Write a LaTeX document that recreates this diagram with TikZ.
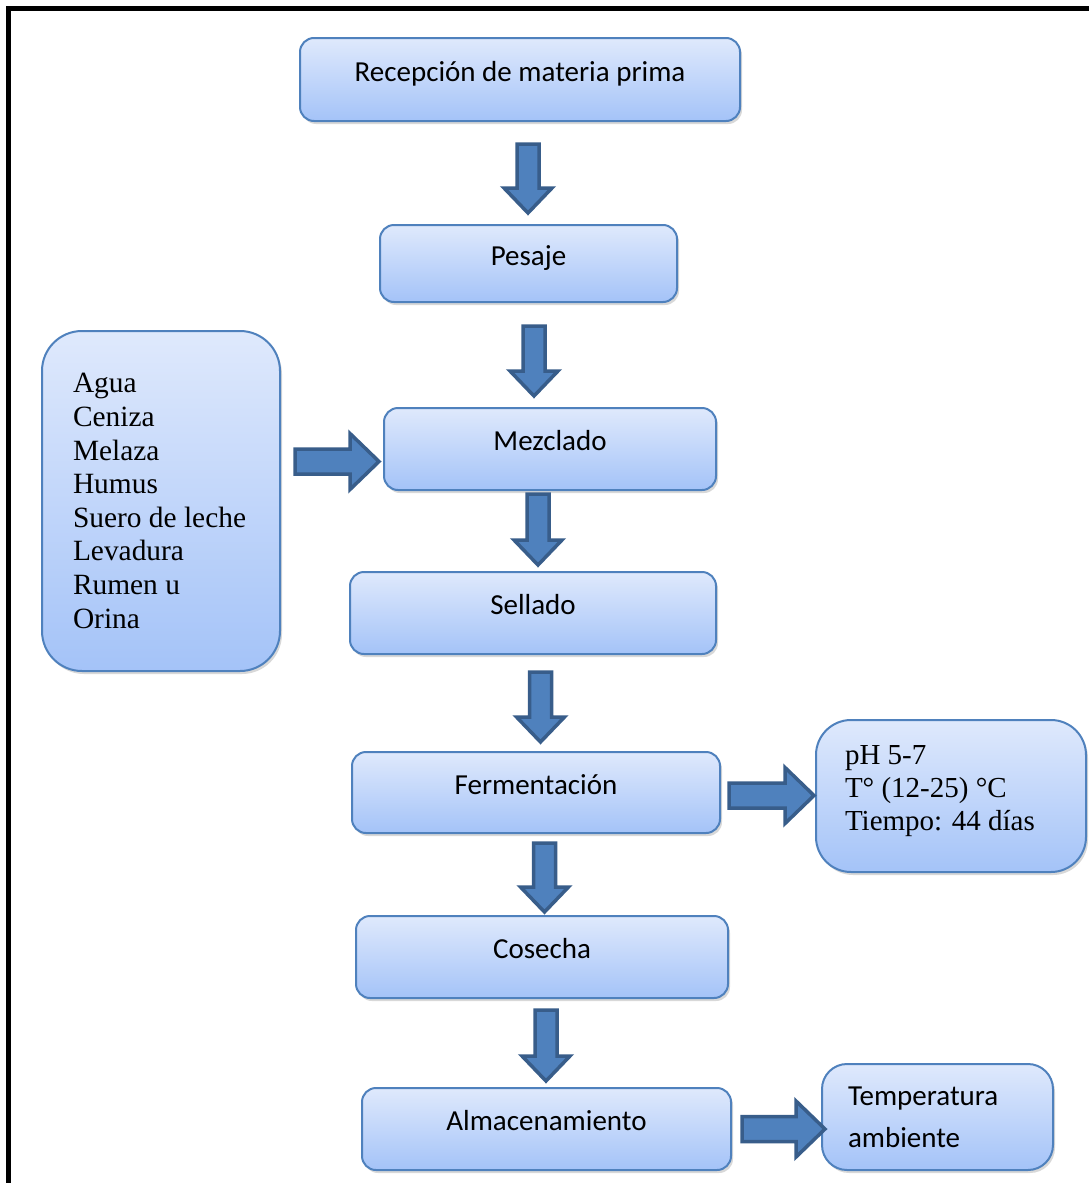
\documentclass[tikz,border=0pt]{standalone}
\usepackage{fontspec}
\setmainfont{Liberation Serif}
\newfontfamily\boxfont{Carlito}
\usetikzlibrary{shadows}
\definecolor{boxtop}{RGB}{223,233,252}
\definecolor{boxbot}{RGB}{164,195,248}
\definecolor{boxline}{RGB}{79,129,189}
\definecolor{arrfill}{RGB}{79,129,189}
\definecolor{arrline}{RGB}{56,93,138}
\tikzset{
  basebox/.style={draw=boxline, line width=2pt, top color=boxtop, bottom color=boxbot,
    drop shadow={shadow xshift=2pt, shadow yshift=-3pt, opacity=0.3}},
  procbox/.style={basebox, rounded corners=14pt, inner sep=0pt,
    font=\boxfont\fontsize{29}{35}\selectfont, text height=12pt, text depth=9pt},
  notebox/.style={basebox, inner sep=0pt, align=flush left},
  blockarrow/.style={fill=arrfill, draw=arrline, line width=3.5pt, line join=miter},
}
\newcommand\dnarrow[3]{%
  \draw[blockarrow] (#1-11,#2) -- (#1+11,#2) -- (#1+11,#3-25) -- (#1+24,#3-25)
    -- (#1,#3) -- (#1-24,#3-25) -- (#1-11,#3-25) -- cycle;}
\newcommand\rtarrow[3]{%
  \draw[blockarrow] (#2,#1-12.5) -- (#3-29,#1-12.5) -- (#3-29,#1-28) -- (#3,#1)
    -- (#3-29,#1+28) -- (#3-29,#1+12.5) -- (#2,#1+12.5) -- cycle;}
\begin{document}
\begin{tikzpicture}[x=1pt,y=-1pt]
\useasboundingbox (0,0) rectangle (1089,1183);
\fill[white] (0,0) rectangle (1089,1183);
\draw[line width=5pt] (8,8) rectangle (1110,1210);

% process boxes
\node[procbox, minimum width=440pt, minimum height=83pt] (recep) at (520,79.5) {Recepción de materia prima};
\node[procbox, minimum width=297pt, minimum height=77pt] (pesaje) at (528.5,263.5) {Pesaje};
\node[procbox, minimum width=332pt, minimum height=82pt] (mezcla) at (550,449) {Mezclado};
\node[procbox, minimum width=366pt, minimum height=82pt] (sellado) at (533,613) {Sellado};
\node[procbox, minimum width=368pt, minimum height=81pt] (ferm) at (536,792.5) {Fermentación};
\node[procbox, minimum width=372pt, minimum height=82pt] (cosecha) at (542,957) {Cosecha};
\node[procbox, minimum width=369pt, minimum height=82pt] (almac) at (546.5,1129) {Almacenamiento};

% side boxes
\node[notebox, rounded corners=40pt, minimum width=238pt, minimum height=340pt, text width=176pt,
  font=\fontsize{29.4}{33.6}\selectfont] (insumos) at (161,501)
  {Agua\\Ceniza\\Melaza\\Humus\\Suero de leche\\Levadura\\Rumen u\\Orina};
\node[notebox, rounded corners=35pt, minimum width=270pt, minimum height=152pt, text width=212pt,
  font=\fontsize{29}{33}\selectfont] (cond) at (951,796)
  {\raisebox{0pt}[19.5pt][0pt]{pH 5-7}\\T° (12-25) °C\\Tiempo: 44 días\rule[-16pt]{0pt}{16pt}};
\node[notebox, rounded corners=25pt, minimum width=231pt, minimum height=106pt, text width=179pt,
  font=\boxfont\fontsize{29}{42}\selectfont] (temp) at (937.5,1117)
  {Temperatura\\ambiente};

% block arrows
\dnarrow{528}{144}{213}
\dnarrow{534}{326}{396}
\dnarrow{538}{494}{565}
\dnarrow{540.5}{672}{742}
\dnarrow{544.5}{843}{912}
\dnarrow{546}{1010}{1081}
\rtarrow{461.5}{295}{379}
\rtarrow{795.5}{729}{814}
\rtarrow{1129}{742}{825}
\end{tikzpicture}
\end{document}
